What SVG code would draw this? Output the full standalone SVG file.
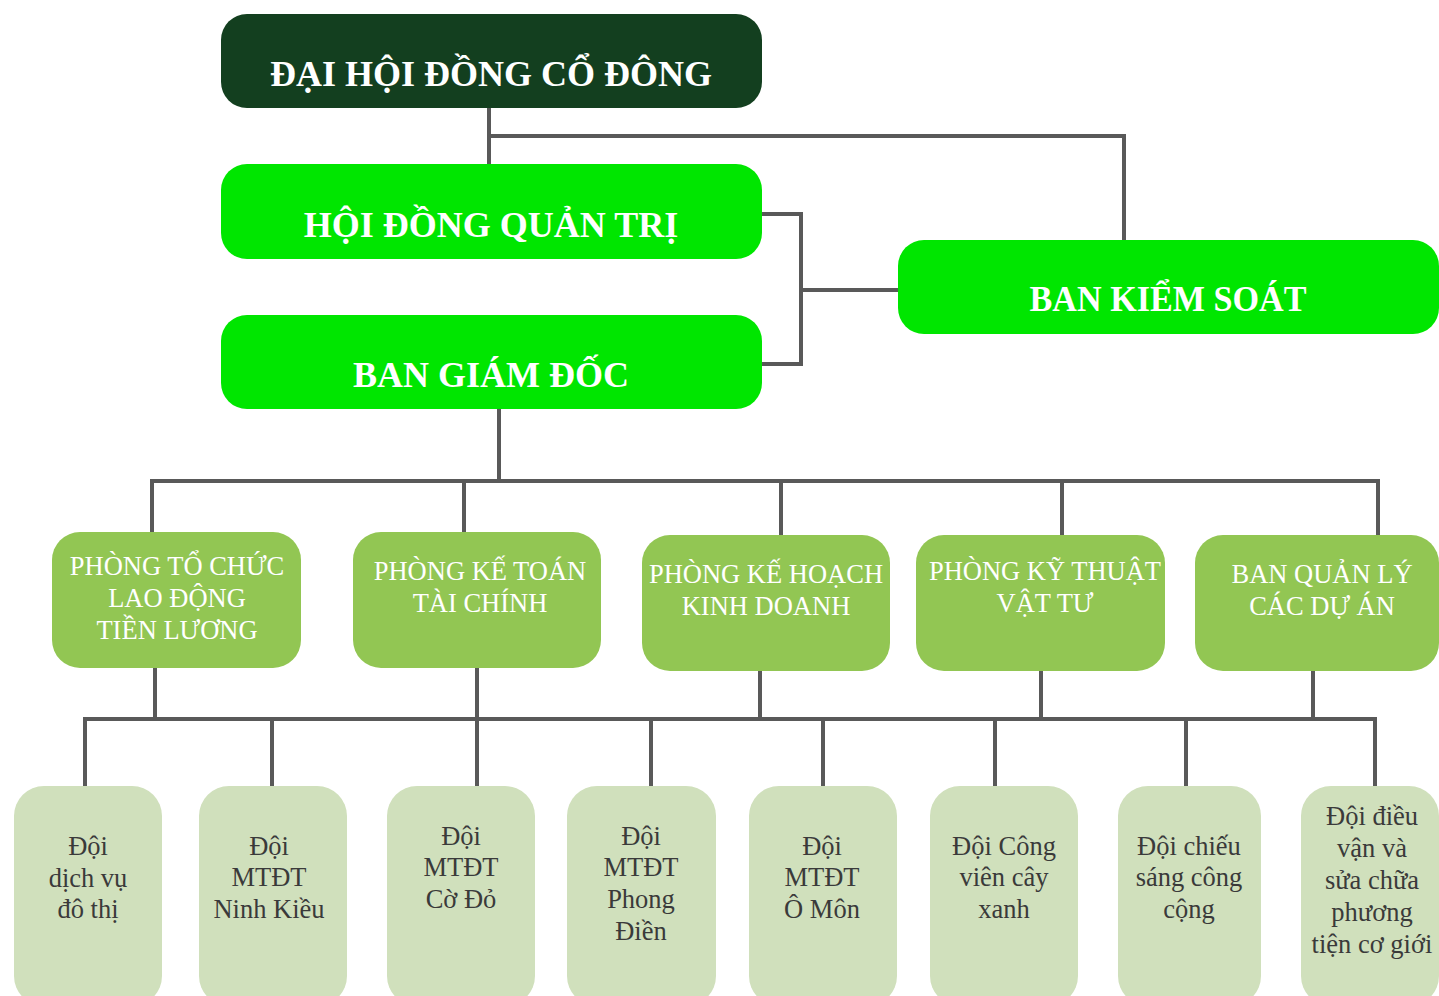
<svg xmlns="http://www.w3.org/2000/svg" width="1439" height="996" viewBox="0 0 1439 996">
<style>
.top{fill:#133f1f}
.lvl{fill:#00e600}
.dept{fill:#92c653}
.team{fill:#d0e0bc}
.t1{font-family:"Liberation Serif","DejaVu Serif",serif;font-weight:bold;font-size:36px;fill:#fff;text-anchor:middle}
.t2{font-family:"Liberation Serif","DejaVu Serif",serif;font-size:26.5px;fill:#fff;text-anchor:middle}
.t3{font-family:"Liberation Serif","DejaVu Serif",serif;font-size:26.5px;fill:#3a3a3a;text-anchor:middle}
.c{fill:none;stroke:#595959;stroke-width:4}
</style>
<rect width="1439" height="996" fill="#fff"/>
<g id="connectors">
<path class="c" d="M489 108V165M489 136H1124V241"/>
<path class="c" d="M762 214H801V364H762M801 290H899"/>
<path class="c" d="M499 409V481M152 481H1378M152 479V533M464 479V533M781 479V536M1062 479V536M1378 479V536"/>
<path class="c" d="M155 668V719M477 668V719M760 671V719M1041 671V719M1313 671V719M85 719H1375"/>
<path class="c" d="M85 717V787M272 717V787M477 717V787M651 717V787M823 717V787M995 717V787M1186 717V787M1375 717V787"/>
</g>
<g id="dhdcd"><rect class="top" x="221" y="14" width="541" height="94" rx="26"/><text class="t1" x="491" y="86">ĐẠI HỘI ĐỒNG CỔ ĐÔNG</text></g>
<g id="hdqt"><rect class="lvl" x="221" y="164" width="541" height="95" rx="26"/><text class="t1" x="491" y="237">HỘI ĐỒNG QUẢN TRỊ</text></g>
<g id="bgd"><rect class="lvl" x="221" y="315" width="541" height="94" rx="26"/><text class="t1" x="491" y="387">BAN GIÁM ĐỐC</text></g>
<g id="bks"><rect class="lvl" x="898" y="240" width="541" height="94" rx="26"/><text class="t1" x="1168" y="311" textLength="277" lengthAdjust="spacingAndGlyphs">BAN KIỂM SOÁT</text></g>
<g id="d1"><rect class="dept" x="52" y="532" width="249" height="136" rx="28"/><text class="t2" x="177" y="575">PHÒNG TỔ CHỨC</text><text class="t2" x="177" y="607">LAO ĐỘNG</text><text class="t2" x="177" y="639">TIỀN LƯƠNG</text></g>
<g id="d2"><rect class="dept" x="353" y="532" width="248" height="136" rx="28"/><text class="t2" x="480" y="580">PHÒNG KẾ TOÁN</text><text class="t2" x="480" y="612">TÀI CHÍNH</text></g>
<g id="d3"><rect class="dept" x="642" y="535" width="248" height="136" rx="28"/><text class="t2" x="766" y="583">PHÒNG KẾ HOẠCH</text><text class="t2" x="766" y="615">KINH DOANH</text></g>
<g id="d4"><rect class="dept" x="916" y="535" width="249" height="136" rx="28"/><text class="t2" x="1045" y="580">PHÒNG KỸ THUẬT</text><text class="t2" x="1045" y="612">VẬT TƯ</text></g>
<g id="d5"><rect class="dept" x="1195" y="535" width="244" height="136" rx="28"/><text class="t2" x="1322" y="583">BAN QUẢN LÝ</text><text class="t2" x="1322" y="615">CÁC DỰ ÁN</text></g>
<g id="e1"><rect class="team" x="14" y="786" width="148" height="220" rx="30"/><text class="t3" x="88" y="855">Đội</text><text class="t3" x="88" y="887">dịch vụ</text><text class="t3" x="88" y="918">đô thị</text></g>
<g id="e2"><rect class="team" x="199" y="786" width="148" height="220" rx="30"/><text class="t3" x="269" y="855">Đội</text><text class="t3" x="269" y="886">MTĐT</text><text class="t3" x="269" y="918">Ninh Kiều</text></g>
<g id="e3"><rect class="team" x="387" y="786" width="148" height="220" rx="30"/><text class="t3" x="461" y="845">Đội</text><text class="t3" x="461" y="876">MTĐT</text><text class="t3" x="461" y="908">Cờ Đỏ</text></g>
<g id="e4"><rect class="team" x="567" y="786" width="149" height="220" rx="30"/><text class="t3" x="641" y="845">Đội</text><text class="t3" x="641" y="876">MTĐT</text><text class="t3" x="641" y="908">Phong</text><text class="t3" x="641" y="940">Điền</text></g>
<g id="e5"><rect class="team" x="749" y="786" width="148" height="220" rx="30"/><text class="t3" x="822" y="855">Đội</text><text class="t3" x="822" y="886">MTĐT</text><text class="t3" x="822" y="918">Ô Môn</text></g>
<g id="e6"><rect class="team" x="930" y="786" width="148" height="220" rx="30"/><text class="t3" x="1004" y="855">Đội Công</text><text class="t3" x="1004" y="886">viên cây</text><text class="t3" x="1004" y="918">xanh</text></g>
<g id="e7"><rect class="team" x="1118" y="786" width="143" height="220" rx="30"/><text class="t3" x="1189" y="855">Đội chiếu</text><text class="t3" x="1189" y="886">sáng công</text><text class="t3" x="1189" y="918">cộng</text></g>
<g id="e8"><rect class="team" x="1301" y="786" width="138" height="220" rx="30"/><text class="t3" x="1372" y="825">Đội điều</text><text class="t3" x="1372" y="857">vận và</text><text class="t3" x="1372" y="889">sửa chữa</text><text class="t3" x="1372" y="921">phương</text><text class="t3" x="1372" y="953">tiện cơ giới</text></g>
</svg>
